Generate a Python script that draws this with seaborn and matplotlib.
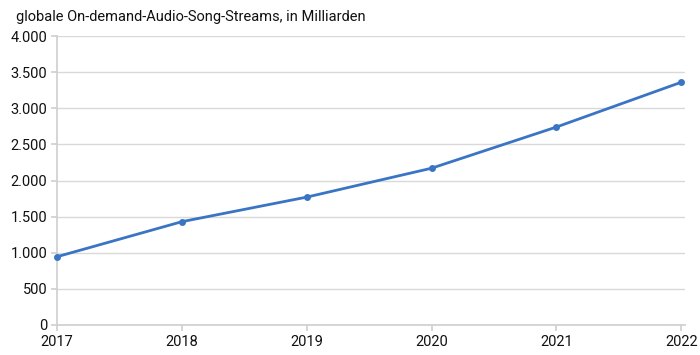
import matplotlib
matplotlib.use("Agg")
import matplotlib.pyplot as plt
import matplotlib.ticker as mticker
import pandas as pd
import seaborn as sns

years = [2017, 2018, 2019, 2020, 2021, 2022]
streams = [945, 1430, 1770, 2170, 2740, 3360]
title = "globale On-demand-Audio-Song-Streams, in Milliarden"

sns.set_theme(style="whitegrid")
plt.rcParams["font.family"] = ["Roboto", "DejaVu Sans"]
plt.rcParams["font.stretch"] = "condensed"

df = pd.DataFrame({"year": years, "streams": streams})

fig = plt.figure(figsize=(7, 3.55), dpi=100)
ax = fig.add_axes([57 / 700, 1 - 325 / 355, 628 / 700, 289 / 355])

sns.lineplot(data=df, x="year", y="streams", ax=ax, color="#3a74c4",
             linewidth=2, marker="o", markersize=5, markeredgewidth=0,
             clip_on=False, zorder=5)

ax.set_xlim(2017, 2022.03)
ax.set_ylim(0, 4000)
ax.set_xticks(years)
ax.set_yticks(range(0, 4001, 500))
ax.yaxis.set_major_formatter(mticker.FuncFormatter(lambda v, p: f"{int(v):,}".replace(",", ".")))
ax.set_xlabel("")
ax.set_ylabel("")

ax.grid(axis="x", visible=False)
ax.grid(axis="y", color="#d9d9d9", linewidth=1)
for side in ["top", "right"]:
    ax.spines[side].set_visible(False)
ax.spines["left"].set_color("#d0d0d0")
ax.spines["bottom"].set_color("#d0d0d0")
ax.tick_params(axis="both", length=4, color="#d0d0d0", labelsize=10.5,
               labelcolor="#111111", pad=3)
ax.tick_params(axis="x", bottom=True)
ax.tick_params(axis="y", left=True)

fig.text(16 / 700, 1 - 17 / 355, title, fontsize=10.5, color="#111111", va="center")

fig.savefig("out.png", dpi=100)
